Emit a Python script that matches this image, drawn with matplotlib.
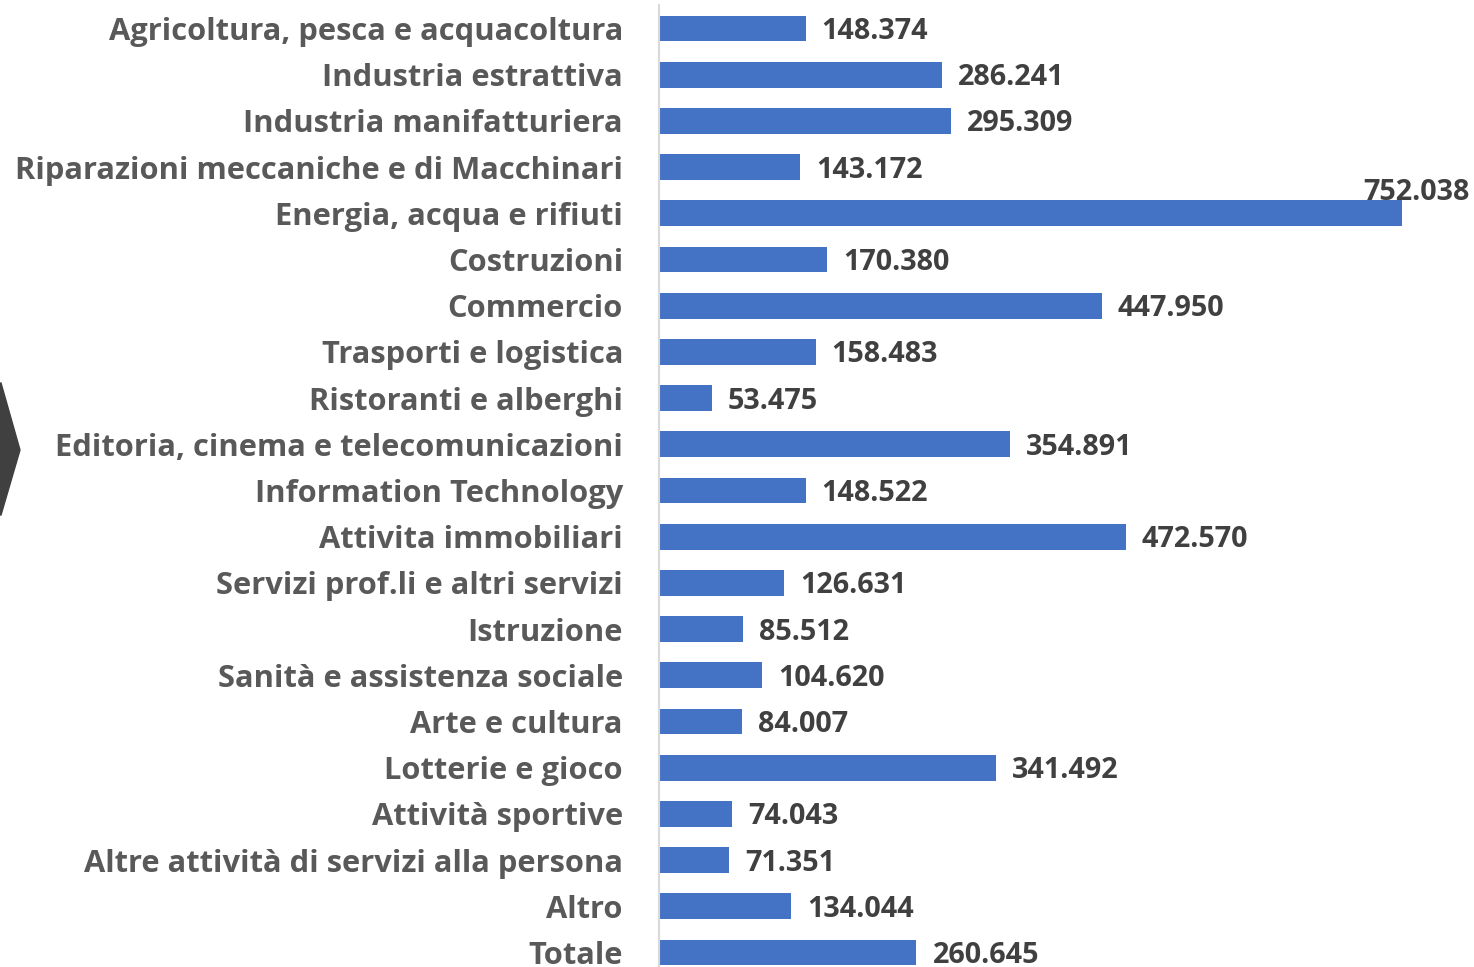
import matplotlib
matplotlib.use('Agg')
import matplotlib.pyplot as plt
from matplotlib.patches import Polygon

categories = [
    "Agricoltura, pesca e acquacoltura",
    "Industria estrattiva",
    "Industria manifatturiera",
    "Riparazioni meccaniche e di Macchinari",
    "Energia, acqua e rifiuti",
    "Costruzioni",
    "Commercio",
    "Trasporti e logistica",
    "Ristoranti e alberghi",
    "Editoria, cinema e telecomunicazioni",
    "Information Technology",
    "Attivita immobiliari",
    "Servizi prof.li e altri servizi",
    "Istruzione",
    "Sanità e assistenza sociale",
    "Arte e cultura",
    "Lotterie e gioco",
    "Attività sportive",
    "Altre attività di servizi alla persona",
    "Altro",
    "Totale",
]
values = [148.374, 286.241, 295.309, 143.172, 752.038, 170.380, 447.950,
          158.483, 53.475, 354.891, 148.522, 472.570, 126.631, 85.512,
          104.620, 84.007, 341.492, 74.043, 71.351, 134.044, 260.645]

W, H = 1474, 967
fig = plt.figure(figsize=(W / 100, H / 100), dpi=100)

FONT = ["Open Sans", "DejaVu Sans"]
BAR = "#4472C4"
LABEL_C = "#595959"
VAL_C = "#404040"

n = len(categories)
step = 46.2
top_px = 28.5 - step / 2
bottom_px = top_px + n * step
ax = fig.add_axes([659 / W, (H - bottom_px) / H, (W - 659) / W, (bottom_px - top_px) / H])

y = list(range(n))
ax.barh(y, values, height=0.56, color=BAR, zorder=2)
ax.set_ylim(n - 0.5, -0.5)
ax.set_xlim(0, 825)

for s in ["top", "right", "bottom"]:
    ax.spines[s].set_visible(False)
ax.spines["left"].set_color("#D9D9D9")
ax.spines["left"].set_linewidth(1.5)
ax.set_xticks([])
ax.set_yticks(y)

# fit font size so the longest label matches the reference width (~608 px)
renderer = fig.canvas.get_renderer()
t = fig.text(0, 0, categories[3], fontsize=20, fontweight="bold", family=FONT)
w = t.get_window_extent(renderer).width
t.remove()
fs = 20 * 608 / w
vfs = fs * 0.93

ax.set_yticklabels(categories, fontsize=fs, fontweight="bold", color=LABEL_C, family=FONT)
ax.tick_params(axis="y", length=0, pad=36 * 72 / 100)

def fmt(v):
    return f"{v:.3f}"

for i, v in enumerate(values):
    if v > 700:
        ax.annotate(fmt(v), xy=(825, i), xytext=(-4, 21), textcoords="offset pixels",
                    ha="right", va="center", fontsize=vfs, fontweight="bold",
                    color=VAL_C, family=FONT, annotation_clip=False)
    else:
        ax.annotate(fmt(v), xy=(v, i), xytext=(16, -3), textcoords="offset pixels",
                    ha="left", va="center", fontsize=vfs, fontweight="bold",
                    color=VAL_C, family=FONT)

# dark chevron on the left edge
chev = Polygon([(-10 / W, 1 - 383 / H), (1 / W, 1 - 383 / H), (20 / W, 1 - 450 / H),
                (1 / W, 1 - 515 / H), (-10 / W, 1 - 515 / H)],
               closed=True, transform=fig.transFigure, color="#404040", clip_on=False)
fig.patches.append(chev)

fig.savefig("out.png", dpi=100)
